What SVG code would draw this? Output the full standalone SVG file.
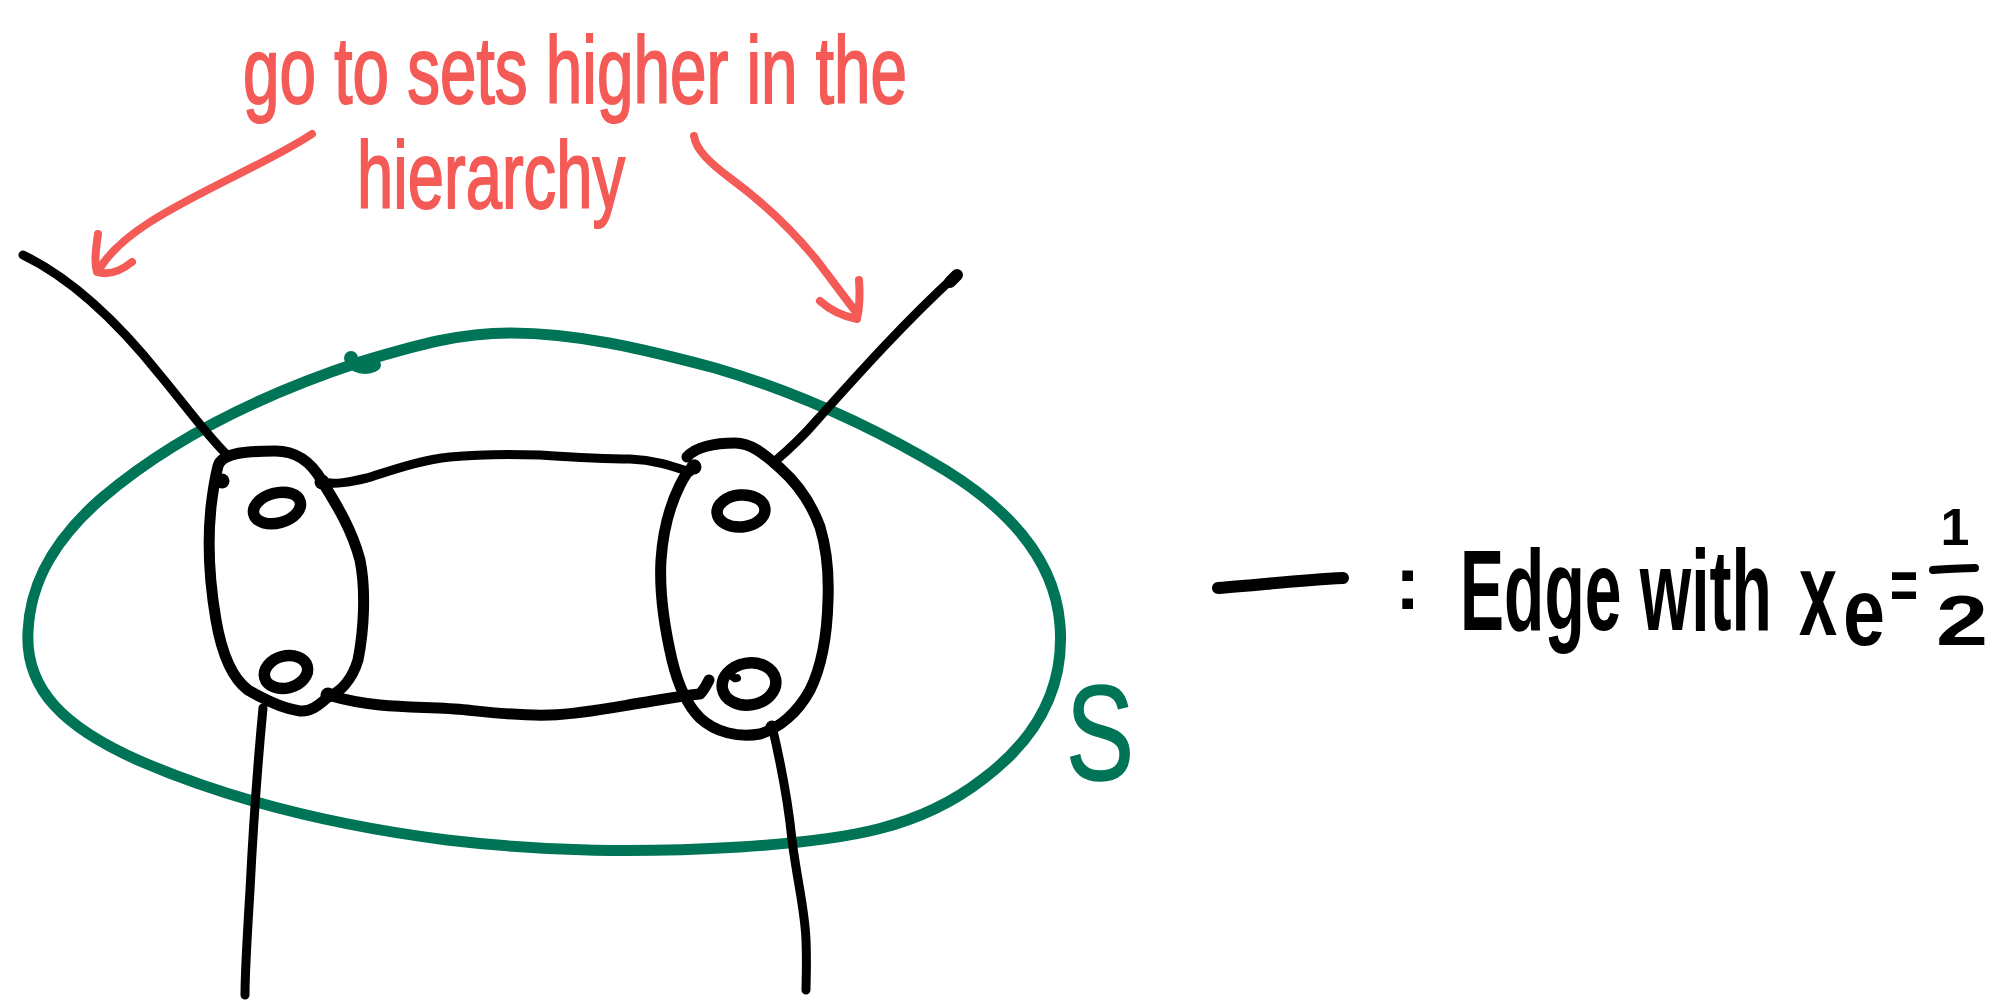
<svg xmlns="http://www.w3.org/2000/svg" width="2002" height="1003" viewBox="0 0 2002 1003">
<style>
.blk{fill:none;stroke:#000;stroke-linecap:round;stroke-linejoin:round}
.red{fill:none;stroke:#f45a56;stroke-width:8;stroke-linecap:round;stroke-linejoin:round}
.grn{fill:none;stroke:#007456;stroke-width:11;stroke-linecap:round;stroke-linejoin:round}
.dot{fill:#000}
.hand{font-family:"Liberation Sans",Arial,sans-serif}
.redtxt{fill:#f45a56;stroke:#f45a56;stroke-width:2}
.blktxt{fill:#000;font-weight:bold}
</style>
<rect x="0" y="0" width="2002" height="1003" fill="#fff"/>

<g id="region-S">
  <path class="grn" d="M360,362 C420,344 460,333 511,333 C575,333 640,348 715,368 C790,390 870,425 945,470 C1010,510 1055,560 1060,625 C1065,690 1035,740 983,779 C920,828 850,840 740,847 C640,853 550,852 447,840 C330,825 230,800 140,761 C65,728 25,690 28,632 C30,580 57,537 102,498 C170,440 260,395 360,362 Z"/>
  <ellipse cx="365" cy="365" rx="16" ry="9" fill="#007456"/>
  <circle cx="351" cy="358" r="7" fill="#007456"/>
  <text class="hand" transform="translate(1066 780) scale(0.755 1)" font-size="135" fill="#007456" stroke="#007456" stroke-width="1.5">S</text>
</g>

<g id="node-left">
  <path class="blk" stroke-width="11" d="M218,466 C222,452 250,451 275,451 C295,451 310,460 322,481 C338,507 352,530 360,560 C366,590 364,630 358,660 C352,680 340,692 328,697 C318,706 310,712 300,711 C285,709 265,700 248,690 C232,678 222,655 216,620 C210,585 207,545 211,507 C213,490 215,478 218,466 Z"/>
  <circle class="dot" cx="222" cy="481" r="7.5"/>
  <ellipse class="blk" stroke-width="11.5" cx="277" cy="508" rx="24" ry="15" transform="rotate(-15 277 508)"/>
  <ellipse class="blk" stroke-width="11.5" cx="286" cy="672" rx="22" ry="16" transform="rotate(-15 286 672)"/>
</g>

<g id="node-right">
  <path class="blk" stroke-width="11" d="M687,457 C695,447 715,443 735,443 C752,443 765,455 780,468 C798,484 812,505 820,527 C827,550 829,575 828,600 C827,640 820,670 810,690 C798,712 780,728 760,734 C738,738 715,732 700,718 C688,706 678,685 672,660 C665,630 659,595 661,560 C663,530 670,505 680,485 C686,473 690,468 695,465"/>
  <circle class="dot" cx="694" cy="467" r="7.5"/>
  <ellipse class="blk" stroke-width="11.5" cx="741" cy="511" rx="24" ry="16" transform="rotate(-5 741 511)"/>
  <ellipse class="blk" stroke-width="11.5" cx="749" cy="684" rx="27" ry="21" transform="rotate(-10 749 684)"/>
  <path class="blk" stroke-width="8" d="M729,670 C731,676 734,679 737,678"/>
</g>

<g id="connectors">
  <path class="blk" stroke-width="9" d="M322,482 C335,485 350,482 367,478 C390,471 420,460 450,457 C480,454 510,454 540,455 C570,457 600,459 630,459 C655,460 672,466 690,472"/>
  <circle class="dot" cx="322" cy="482" r="7.5"/>
  <path class="blk" stroke-width="11" d="M328,695 C345,700 360,703 380,705 C410,708 440,707 467,710 C495,713 520,716 550,715 C580,714 610,708 640,703 C660,700 680,696 700,694 C704,690 706,686 709,680"/>
  <circle class="dot" cx="328" cy="695" r="7.5"/>
  <path class="blk" stroke-width="9" d="M23,255 C75,280 120,325 160,375 C185,405 205,433 227,455"/>
  <path class="blk" stroke-width="9" d="M955,276 C905,322 860,372 817,420 C800,440 786,452 773,463"/>
  <path class="blk" stroke-width="12" d="M957,275 L950,282"/>
  <path class="blk" stroke-width="9" d="M263,708 C258,760 253,830 250,890 C247,940 245,970 245,995"/>
  <circle class="dot" cx="772" cy="727" r="6.5"/>
  <path class="blk" stroke-width="9" d="M772,726 C780,760 788,800 792,840 C797,880 805,910 806,940 C807,965 806,980 806,990"/>
  <path class="red" d="M312,134 C270,162 200,190 150,222 C125,238 108,255 100,268"/>
  <path class="red" d="M98,234 C96,248 94,262 97,272 C110,276 122,270 132,262"/>
  <path class="red" d="M694,136 C696,150 710,163 730,178 C760,200 790,228 815,258 C832,280 845,298 856,312"/>
  <path class="red" d="M820,301 C830,310 842,316 857,319 C860,305 860,292 859,280"/>
</g>

<g id="annotation">
  <text class="hand redtxt" transform="translate(243 103) scale(0.691 1)" font-size="95">go to sets higher in the</text>
  <text class="hand redtxt" transform="translate(357 208) scale(0.686 1)" font-size="95">hierarchy</text>
</g>

<g id="legend">
  <path class="blk" stroke-width="12" d="M1218,588 C1260,585 1300,580 1343,578"/>
  <text class="hand blktxt" x="1395" y="609" font-size="76">:</text>
  <text class="hand blktxt" transform="translate(1460 630) scale(0.5745 1)" font-size="115">Edge with</text>
  <text class="hand blktxt" transform="translate(1799 635) scale(0.57 1)" font-size="120">x</text>
  <text class="hand blktxt" transform="translate(1843 645) scale(0.787 1)" font-size="96">e</text>
  <text class="hand blktxt" transform="translate(1890 609) scale(0.685 1)" font-size="70">=</text>
  <text class="hand blktxt" x="1955" y="545" font-size="52" text-anchor="middle">1</text>
  <path class="blk" stroke-width="8" d="M1933,570 C1948,569 1962,568 1975,568"/>
  <text class="hand blktxt" transform="translate(1936 645) scale(1.337 1)" font-size="70">2</text>
</g>
</svg>
